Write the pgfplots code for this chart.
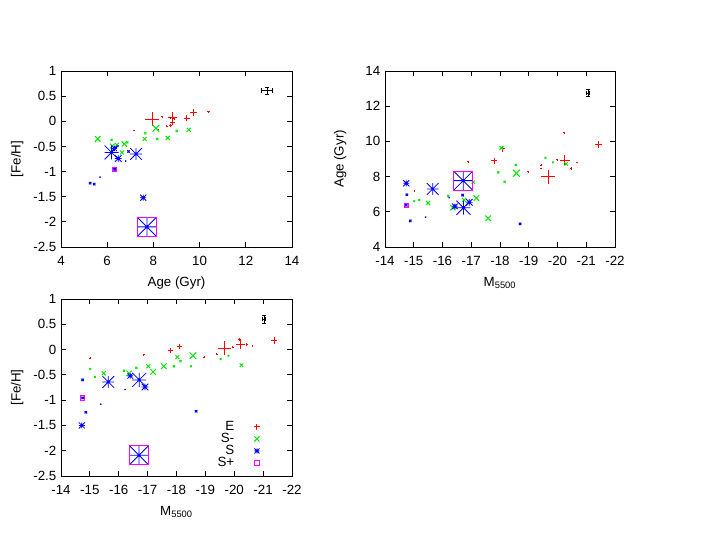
\documentclass[border=0pt]{standalone}
\usepackage{fontspec}
\setmainfont{Liberation Sans}
\usepackage{pgfplots}
\pgfplotsset{compat=1.18}

\definecolor{gpred}{RGB}{255,0,0}
\definecolor{gpgreen}{RGB}{0,230,0}
\definecolor{gpblue}{RGB}{0,0,255}
\definecolor{gpmag}{RGB}{255,0,255}

\pgfdeclareplotmark{gpplus}{%
  \pgfpathmoveto{\pgfqpoint{-\pgfplotmarksize}{0pt}}%
  \pgfpathlineto{\pgfqpoint{\pgfplotmarksize}{0pt}}%
  \pgfpathmoveto{\pgfqpoint{0pt}{-\pgfplotmarksize}}%
  \pgfpathlineto{\pgfqpoint{0pt}{\pgfplotmarksize}}%
  \pgfusepathqstroke}
\pgfdeclareplotmark{gpx}{%
  \pgfpathmoveto{\pgfqpoint{-\pgfplotmarksize}{-\pgfplotmarksize}}%
  \pgfpathlineto{\pgfqpoint{\pgfplotmarksize}{\pgfplotmarksize}}%
  \pgfpathmoveto{\pgfqpoint{-\pgfplotmarksize}{\pgfplotmarksize}}%
  \pgfpathlineto{\pgfqpoint{\pgfplotmarksize}{-\pgfplotmarksize}}%
  \pgfusepathqstroke}
\pgfdeclareplotmark{gpstar}{%
  \pgfpathmoveto{\pgfqpoint{-\pgfplotmarksize}{-\pgfplotmarksize}}%
  \pgfpathlineto{\pgfqpoint{\pgfplotmarksize}{\pgfplotmarksize}}%
  \pgfpathmoveto{\pgfqpoint{-\pgfplotmarksize}{\pgfplotmarksize}}%
  \pgfpathlineto{\pgfqpoint{\pgfplotmarksize}{-\pgfplotmarksize}}%
  \pgfpathmoveto{\pgfqpoint{-\pgfplotmarksize}{0pt}}%
  \pgfpathlineto{\pgfqpoint{\pgfplotmarksize}{0pt}}%
  \pgfpathmoveto{\pgfqpoint{0pt}{-\pgfplotmarksize}}%
  \pgfpathlineto{\pgfqpoint{0pt}{\pgfplotmarksize}}%
  \pgfusepathqstroke}

\pgfplotsset{
  E/.style={only marks, forget plot, mark=gpplus, color=gpred, mark size=#1,
     mark options={solid, draw=gpred, fill=gpred, line width=0.75pt}},
  Sm/.style={only marks, forget plot, mark=gpx, color=gpgreen, mark size=#1,
     mark options={solid, color=gpgreen, line width=0.7pt}},
  S/.style={only marks, forget plot, mark=gpstar, color=gpblue, mark size=#1,
     mark options={solid, color=gpblue, line width=0.6pt}},
  Sp/.style={only marks, forget plot, mark=square, color=gpmag, mark size=#1,
     mark options={solid, color=gpmag, line width=0.7pt}},
  gpaxis/.style={scale only axis, tick align=inside, major tick length=4pt,
     axis line style={line width=0.7pt},
     every tick/.style={black, line width=0.7pt},
     /pgf/number format/assume math mode=true,
     xticklabel style={yshift=-3.5pt},
     xlabel style={at={(axis description cs:0.5,-0.205)}, anchor=center},
     ylabel style={at={(axis description cs:-0.19,0.5)}, anchor=center}},
  gperr/.style={black, line width=0.6pt, mark=none, forget plot,
     error bars/.cd, x dir=both, x explicit, y dir=both, y explicit,
     error bar style={line width=0.6pt},
     error mark options={rotate=90, black, mark size=1.6pt, line width=0.6pt}}
}

\begin{document}
\fontsize{10}{12}\selectfont
\begin{tikzpicture}
\path[use as bounding box] (0pt,0pt) rectangle (536.25pt,414.75pt);

% ================= Panel 1: Age vs [Fe/H]
\begin{axis}[gpaxis, at={(45.75pt,229.5pt)}, anchor=south west,
  width=173.25pt, height=132pt,
  xmin=4, xmax=14, ymin=-2.5, ymax=1,
  xtick={4,6,...,14}, ytick={-2.5,-2,...,1},
  xlabel={Age (Gyr)}, ylabel={[Fe/H]}]
\addplot[E=5.2pt] coordinates {(7.95,0.04)};
\addplot[E=3.6pt] coordinates {(8.83,0.08)};
\addplot[E=2.5pt] coordinates {(9.73,0.18)};
\addplot[E=2.1pt] coordinates {(9.45,0.06)};
\addplot[E=2.0pt] coordinates {(8.82,-0.03)};
\addplot[E=1.1pt] coordinates {(8.75,-0.09)};
\addplot[E=0.9pt] coordinates {(10.38,0.185)};
\addplot[E=0.75pt] coordinates {(8.39,0.09) (8.57,-0.10) (8.21,-0.17) (8.90,0.05)};
\addplot[E=0.6pt] coordinates {(7.15,-0.18) (8.72,0.07)};
\addplot[Sm=2.5pt] coordinates {(8.11,-0.14)};
\addplot[Sm=2.1pt] coordinates {(5.59,-0.35)};
\addplot[Sm=2.0pt] coordinates {(6.74,-0.45)};
\addplot[Sm=1.75pt] coordinates {(6.22,-0.49)};
\addplot[Sm=1.5pt] coordinates {(7.62,-0.35) (8.62,-0.33) (9.53,-0.17) (6.42,-0.47) (6.64,-0.62)};
\addplot[Sm=0.75pt] coordinates {(7.65,-0.24) (8.17,-0.35) (9.01,-0.19) (6.19,-0.37) (6.87,-0.42)};
\addplot[S=7.0pt] coordinates {(7.72,-2.10)};
\addplot[S=5.25pt] coordinates {(6.19,-0.62)};
\addplot[S=4.4pt] coordinates {(7.25,-0.65)};
\addplot[S=2.5pt] coordinates {(6.48,-0.74)};
\addplot[S=2.25pt] coordinates {(7.56,-1.52)};
\addplot[S=2.1pt] coordinates {(6.31,-0.54)};
\addplot[S=0.9pt] coordinates {(6.92,-0.60) (5.26,-1.23) (5.44,-1.25) (6.32,-0.955)};
\addplot[S=0.4pt] coordinates {(5.69,-1.11) (6.80,-0.79)};
\addplot[Sp=7.0pt] coordinates {(7.72,-2.10)};
\addplot[Sp=1.65pt] coordinates {(6.32,-0.955)};
\addplot[gperr] coordinates {(12.92,0.61) +- (0.23,0.066)};
\end{axis}

% ================= Panel 2: M5500 vs Age
\begin{axis}[gpaxis, at={(288.75pt,229.5pt)}, anchor=south west,
  width=172.5pt, height=132pt,
  xmin=-22, xmax=-14, x dir=reverse, ymin=4, ymax=14,
  xtick={-22,-21,...,-14}, ytick={4,6,...,14},
  xlabel={M\textsubscript{5500}}, ylabel={Age (Gyr)},
  ylabel style={at={(axis description cs:-0.195,0.5)}}]
\addplot[E=5.0pt] coordinates {(-19.67,7.98)};
\addplot[E=3.75pt] coordinates {(-20.25,8.94)};
\addplot[E=2.5pt] coordinates {(-21.43,9.83)};
\addplot[E=2.1pt] coordinates {(-17.80,8.89) (-18.09,9.57)};
\addplot[E=1.0pt] coordinates {(-20.47,8.45)};
\addplot[E=0.9pt] coordinates {(-20.23,10.48)};
\addplot[E=0.75pt] coordinates {(-16.89,8.83) (-19.44,8.64) (-18.99,8.28) (-19.99,8.96)};
\addplot[E=0.6pt] coordinates {(-19.43,8.45) (-20.68,8.79) (-15.02,7.18)};
\addplot[Sm=2.5pt] coordinates {(-18.57,8.19)};
\addplot[Sm=2.1pt] coordinates {(-17.59,5.63) (-17.18,6.78)};
\addplot[Sm=2.0pt] coordinates {(-16.36,6.23)};
\addplot[Sm=1.5pt] coordinates {(-18.05,9.63) (-16.75,6.67) (-15.50,6.50)};
\addplot[Sm=1.3pt] coordinates {(-20.30,8.72) (-17.07,7.68)};
\addplot[Sm=0.75pt] coordinates {(-18.55,8.66) (-17.94,8.24) (-18.16,7.71) (-16.20,6.90)};
\addplot[Sm=0.6pt] coordinates {(-19.58,9.07) (-19.84,8.81) (-15.02,6.60) (-15.19,6.67)};
\addplot[S=7.0pt] coordinates {(-16.72,7.77)};
\addplot[S=5.25pt] coordinates {(-16.73,6.23)};
\addplot[S=4.4pt] coordinates {(-15.66,7.30)};
\addplot[S=2.5pt] coordinates {(-16.93,6.54)};
\addplot[S=2.25pt] coordinates {(-14.74,7.62)};
\addplot[S=2.1pt] coordinates {(-16.43,6.31)};
\addplot[S=0.9pt] coordinates {(-14.76,6.97) (-14.74,6.37) (-14.88,5.48) (-16.70,6.95) (-18.70,5.31)};
\addplot[S=0.4pt] coordinates {(-15.41,5.70) (-16.23,6.80)};
\addplot[Sp=7.0pt] coordinates {(-16.72,7.77)};
\addplot[Sp=1.65pt] coordinates {(-14.74,6.37)};
\addplot[gperr] coordinates {(-21.07,12.75) +- (0.05,0.22)};
\end{axis}

% ================= Panel 3: M5500 vs [Fe/H]
\begin{axis}[gpaxis, at={(45.75pt,57.75pt)}, anchor=south west,
  width=173.25pt, height=132.75pt,
  xmin=-22, xmax=-14, x dir=reverse, ymin=-2.5, ymax=1,
  xtick={-22,-21,...,-14}, ytick={-2.5,-2,...,1},
  xlabel={M\textsubscript{5500}}, ylabel={[Fe/H]},
  legend plot pos=right, legend cell align=right,
  legend style={draw=none, fill=none, inner sep=0pt, row sep=-3.5pt,
    /tikz/every odd column/.append style={column sep=13pt},
    at={(axis description cs:0.861,0.325)}, anchor=north east}]
\addplot[E=5.0pt] coordinates {(-19.66,0.03)};
\addplot[E=3.6pt] coordinates {(-20.21,0.10)};
\addplot[E=2.5pt] coordinates {(-21.38,0.18)};
\addplot[E=2.1pt] coordinates {(-17.79,-0.02) (-18.10,0.06)};
\addplot[E=1.0pt] coordinates {(-20.44,0.10)};
\addplot[E=0.9pt] coordinates {(-20.18,0.20)};
\addplot[E=0.75pt] coordinates {(-19.94,0.05) (-18.97,-0.15) (-19.40,-0.09) (-16.87,-0.10)};
\addplot[E=0.6pt] coordinates {(-20.63,0.07) (-15.01,-0.17)};
\addplot[Sm=2.5pt] coordinates {(-18.57,-0.12)};
\addplot[Sm=2.1pt] coordinates {(-17.56,-0.33) (-17.19,-0.44)};
\addplot[Sm=2.0pt] coordinates {(-16.36,-0.47)};
\addplot[Sm=1.5pt] coordinates {(-18.03,-0.15) (-17.02,-0.33) (-15.48,-0.47)};
\addplot[Sm=1.3pt] coordinates {(-20.25,-0.31)};
\addplot[Sm=0.75pt] coordinates {(-18.14,-0.23) (-17.91,-0.33) (-16.61,-0.36) (-16.18,-0.42)};
\addplot[Sm=0.6pt] coordinates {(-18.50,-0.33) (-19.53,-0.19) (-19.80,-0.12) (-15.01,-0.38) (-15.18,-0.54)};
\addplot[S=7.0pt] coordinates {(-16.70,-2.09)};
\addplot[S=5.25pt] coordinates {(-16.71,-0.60)};
\addplot[S=4.4pt] coordinates {(-15.64,-0.64)};
\addplot[S=2.5pt] coordinates {(-16.91,-0.74)};
\addplot[S=2.25pt] coordinates {(-14.72,-1.50)};
\addplot[S=2.1pt] coordinates {(-16.40,-0.52)};
\addplot[S=0.9pt] coordinates {(-14.75,-0.60) (-14.75,-0.955) (-14.86,-1.24) (-18.68,-1.22) (-16.70,-0.60)};
\addplot[S=0.4pt] coordinates {(-16.22,-0.79) (-15.38,-1.08)};
\addplot[Sp=7.0pt] coordinates {(-16.70,-2.09)};
\addplot[Sp=1.65pt] coordinates {(-14.75,-0.955)};
\addplot[gperr] coordinates {(-21.03,0.60) +- (0.05,0.08)};
\addlegendimage{E=2.0pt}
\addlegendentry{E}
\addlegendimage{Sm=1.9pt}
\addlegendentry{S-}
\addlegendimage{S=1.9pt}
\addlegendentry{S}
\addlegendimage{Sp=1.9pt}
\addlegendentry{S+}
\end{axis}
\end{tikzpicture}
\end{document}
